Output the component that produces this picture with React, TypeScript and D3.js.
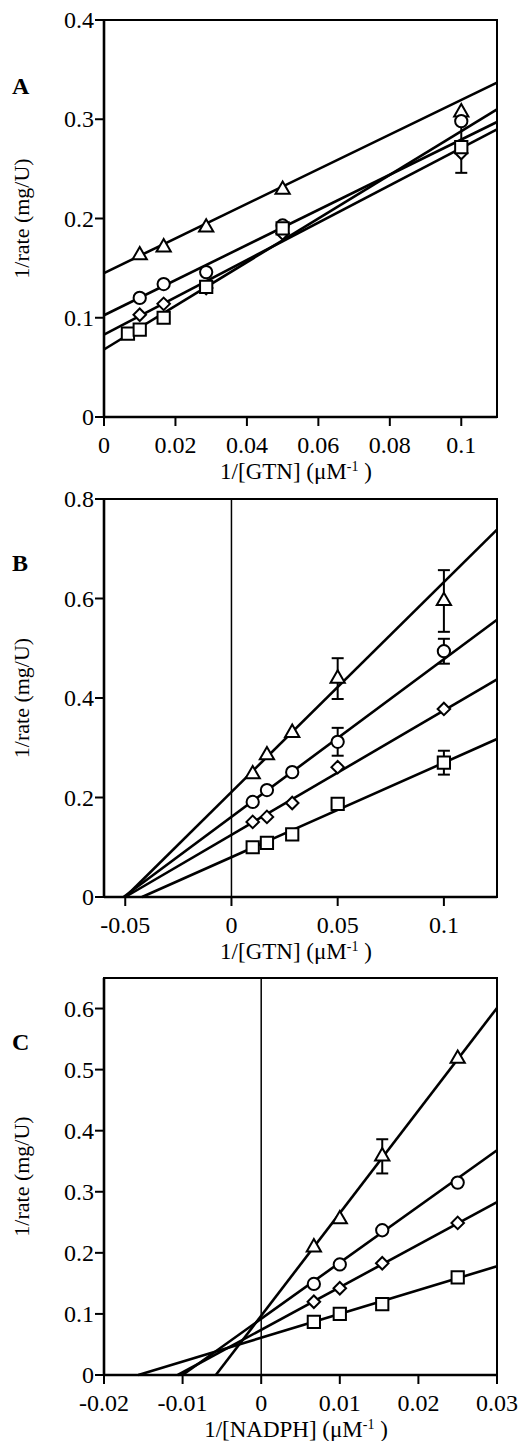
import React from "react";
import * as d3 from "d3";

// panel A : 1/rate vs 1/[GTN]
const aX = [0.01, 0.0167, 0.0286, 0.05, 0.1];
const aSquareX = [0.0067, 0.01, 0.0167, 0.0286, 0.05, 0.1];
const aTriangle = [0.163, 0.171, 0.191, 0.229, 0.307];
const aCircle = [0.12, 0.134, 0.146, 0.193, 0.298];
const aDiamond = [0.103, 0.114, 0.13, 0.185, 0.266];
const aSquare = [0.084, 0.088, 0.1, 0.131, 0.19, 0.272];
const aSquareErr = [0, 0, 0, 0, 0, 0.026];
const aIntercepts = [0.145, 0.1025, 0.083, 0.068];
const aSlopes = [1.745, 1.77, 1.88, 2.2];
const aXTicks = [0, 0.02, 0.04, 0.06, 0.08, 0.1];
const aYTicks = [0, 0.1, 0.2, 0.3, 0.4];

// panel B : 1/rate vs 1/[GTN]
const bX = [0.01, 0.0167, 0.0286, 0.05, 0.1];
const bTriangle = [0.247, 0.285, 0.33, 0.439, 0.595];
const bTriangleErr = [0, 0, 0, 0.041, 0.062];
const bCircle = [0.191, 0.215, 0.251, 0.312, 0.494];
const bCircleErr = [0, 0, 0, 0.028, 0.025];
const bDiamond = [0.151, 0.161, 0.189, 0.261, 0.378];
const bSquare = [0.1, 0.109, 0.126, 0.187, 0.27];
const bSquareErr = [0, 0, 0, 0, 0.024];
const bIntercepts = [0.211, 0.161, 0.125, 0.08];
const bSlopes = [4.22, 3.17, 2.5, 1.9];
const bXTicks = [-0.05, 0, 0.05, 0.1];
const bYTicks = [0, 0.2, 0.4, 0.6, 0.8];

// panel C : 1/rate vs 1/[NADPH]
const cX = [0.0067, 0.01, 0.0154, 0.025];
const cTriangle = [0.209, 0.255, 0.358, 0.518];
const cTriangleErr = [0, 0, 0.028, 0];
const cCircle = [0.149, 0.181, 0.237, 0.315];
const cDiamond = [0.12, 0.142, 0.183, 0.249];
const cSquare = [0.087, 0.1, 0.116, 0.16];
const cIntercepts = [0.097, 0.092, 0.074, 0.061];
const cSlopes = [16.8, 9.2, 6.97, 3.9];
const cXTicks = [-0.02, -0.01, 0, 0.01, 0.02, 0.03];
const cYTicks = [0, 0.1, 0.2, 0.3, 0.4, 0.5, 0.6];

const FONT = "'Liberation Serif', 'Times New Roman', serif";
const LEFT = 104;
const RIGHT = 497;

const shapes = [
  { type: d3.symbolTriangle, size: 88 },
  { type: d3.symbolCircle, size: 118 },
  { type: (d3 as any).symbolDiamond2 || d3.symbolDiamond, size: 100 },
  { type: d3.symbolSquare, size: 150 },
];

type Series = { xs: number[]; ys: number[]; err?: number[] };

function Panel( props: {
  letter: string; top: number; bottom: number;
  xDomain: [ number, number ]; yDomain: [ number, number ];
  xTicks: number[]; yTicks: number[];
  series: Series[]; intercepts: number[]; slopes: number[];
  fromZero: boolean; zeroLine: boolean; xName: string;
} ) {
  const { top, bottom } = props;
  const x = d3.scaleLinear().domain( props.xDomain ).range( [ LEFT, RIGHT ] );
  const y = d3.scaleLinear().domain( props.yDomain ).range( [ bottom, top ] );
  const line = d3.line<[ number, number ]>().x( d => x( d[0] ) ).y( d => y( d[1] ) );
  const xMax = props.xDomain[1];
  const fmt = ( v: number ) => v === 0 ? "0" : String( +v.toFixed( 3 ) );

  return (
    <g>
      <text x={12} y={top + ( props.letter === "A" ? 74 : 72 )} fontFamily={FONT} fontWeight="bold" fontSize={24}>{props.letter}</text>

      {/* frame */}
      <rect x={LEFT} y={top} width={RIGHT - LEFT} height={bottom - top} fill="none" stroke="#000" strokeWidth={2} />
      <line x1={LEFT} x2={LEFT} y1={top} y2={bottom} stroke="#000" strokeWidth={2.6} />
      <line x1={LEFT} x2={RIGHT} y1={bottom} y2={bottom} stroke="#000" strokeWidth={2.6} />
      {props.zeroLine && <line x1={x( 0 )} x2={x( 0 )} y1={top} y2={bottom} stroke="#000" strokeWidth={1.5} />}

      {/* y axis */}
      {props.yTicks.map( t => (
        <g key={"y" + t}>
          <line x1={LEFT - 9} x2={LEFT} y1={y( t )} y2={y( t )} stroke="#000" strokeWidth={2} />
          <text x={LEFT - 10} y={y( t ) + 8} textAnchor="end" fontFamily={FONT} fontSize={24}>{fmt( t )}</text>
        </g>
      ) )}
      {/* x axis */}
      {props.xTicks.map( t => (
        <g key={"x" + t}>
          <line x1={x( t )} x2={x( t )} y1={bottom} y2={bottom + 9} stroke="#000" strokeWidth={2} />
          <text x={x( t )} y={bottom + 36} textAnchor="middle" fontFamily={FONT} fontSize={24}>{fmt( t )}</text>
        </g>
      ) )}

      <text transform={`translate(29,${( top + bottom ) / 2}) rotate(-90)`} textAnchor="middle" fontFamily={FONT} fontSize={22}>1/rate (mg/U)</text>
      <text x={296} y={bottom + 62} textAnchor="middle" fontFamily={FONT} fontSize={23}>
        {props.xName} (μM<tspan fontSize={14} dy={-8}>-1</tspan><tspan dy={8}> )</tspan>
      </text>

      {/* fitted lines */}
      {props.intercepts.map( ( b, i ) => {
        const m = props.slopes[i];
        const x0 = props.fromZero ? 0 : Math.max( -b / m, props.xDomain[0] );
        return <path key={"l" + i} d={line( [ [ x0, b + m * x0 ], [ xMax, b + m * xMax ] ] ) || ""} fill="none" stroke="#000" strokeWidth={2.6} />;
      } )}

      {/* error bars */}
      {props.series.map( ( s, i ) => s.err ? s.err.map( ( e, j ) => e > 0 ? (
        <g key={"e" + i + "_" + j} stroke="#000" strokeWidth={2}>
          <line x1={x( s.xs[j] )} x2={x( s.xs[j] )} y1={y( s.ys[j] - e )} y2={y( s.ys[j] + e )} />
          <line x1={x( s.xs[j] ) - 6} x2={x( s.xs[j] ) + 6} y1={y( s.ys[j] - e )} y2={y( s.ys[j] - e )} />
          <line x1={x( s.xs[j] ) - 6} x2={x( s.xs[j] ) + 6} y1={y( s.ys[j] + e )} y2={y( s.ys[j] + e )} />
        </g>
      ) : null ) : null )}

      {/* markers */}
      {props.series.map( ( s, i ) => {
        const sym = d3.symbol().type( shapes[i].type ).size( shapes[i].size )();
        return s.ys.map( ( v, j ) => (
          <path key={"m" + i + "_" + j} d={sym || ""} transform={`translate(${x( s.xs[j] )},${y( v )})`} fill="#fff" stroke="#000" strokeWidth={2} />
        ) );
      } )}
    </g>
  );
}

export default function App() {
  return (
    <svg width={531} height={1441} style={{ position: "absolute", left: 0, top: 0, background: "#fff" }}>
      <Panel letter="A" top={20} bottom={417} xDomain={[ 0, 0.11 ]} yDomain={[ 0, 0.4 ]}
        xTicks={aXTicks} yTicks={aYTicks} fromZero={true} zeroLine={false} xName="1/[GTN]"
        intercepts={aIntercepts} slopes={aSlopes}
        series={[
          { xs: aX, ys: aTriangle },
          { xs: aX, ys: aCircle },
          { xs: aX, ys: aDiamond },
          { xs: aSquareX, ys: aSquare, err: aSquareErr },
        ]} />
      <Panel letter="B" top={499} bottom={897} xDomain={[ -0.06, 0.125 ]} yDomain={[ 0, 0.8 ]}
        xTicks={bXTicks} yTicks={bYTicks} fromZero={false} zeroLine={true} xName="1/[GTN]"
        intercepts={bIntercepts} slopes={bSlopes}
        series={[
          { xs: bX, ys: bTriangle, err: bTriangleErr },
          { xs: bX, ys: bCircle, err: bCircleErr },
          { xs: bX, ys: bDiamond },
          { xs: bX, ys: bSquare, err: bSquareErr },
        ]} />
      <Panel letter="C" top={978} bottom={1375} xDomain={[ -0.02, 0.03 ]} yDomain={[ 0, 0.65 ]}
        xTicks={cXTicks} yTicks={cYTicks} fromZero={false} zeroLine={true} xName="1/[NADPH]"
        intercepts={cIntercepts} slopes={cSlopes}
        series={[
          { xs: cX, ys: cTriangle, err: cTriangleErr },
          { xs: cX, ys: cCircle },
          { xs: cX, ys: cDiamond },
          { xs: cX, ys: cSquare },
        ]} />
    </svg>
  );
}
